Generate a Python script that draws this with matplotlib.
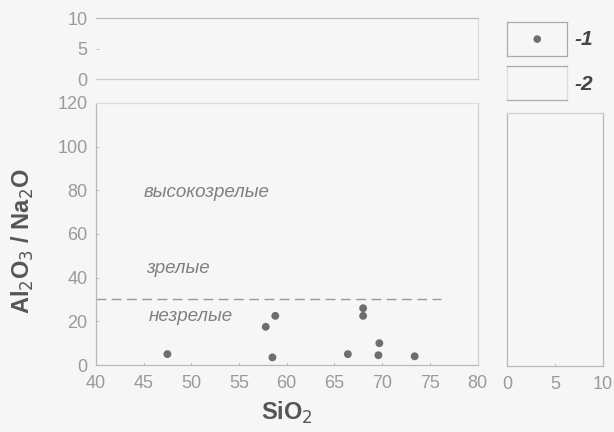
import matplotlib
matplotlib.use("Agg")
import matplotlib.pyplot as plt

plt.rcParams['font.family'] = ['Liberation Sans', 'DejaVu Sans']

sio2 = [47.5, 57.8, 58.8, 58.5, 66.4, 68.0, 68.0, 69.7, 69.6, 73.4]
ratio = [5, 17.5, 22.5, 3.5, 5, 26, 22.5, 10, 4.5, 4]
x_ticks = [40, 45, 50, 55, 60, 65, 70, 75, 80]
y_ticks = [0, 20, 40, 60, 80, 100, 120]
top_ticks = [0, 5, 10]
right_ticks = [0, 5, 10]
boundary = 30
zones = ["высокозрелые", "зрелые", "незрелые"]
zone_pos = [(51.6, 79), (48.6, 44), (49.9, 22)]

bg = '#f6f6f6'
spine_c = '#b8b8b8'
tick_c = '#9a9a9a'
pt_c = '#6e6e6e'

fig = plt.figure(figsize=(6.14, 4.32), dpi=100, facecolor=bg)

def style(ax):
    ax.set_facecolor(bg)
    for s in ax.spines.values():
        s.set_color(spine_c)
        s.set_linewidth(0.9)
    ax.tick_params(colors=spine_c, labelcolor=tick_c, labelsize=13,
                   direction='in', length=2, width=0.6)
    ax.tick_params(axis='x', pad=7)
    ax.tick_params(axis='y', pad=6)

# main axes
ax = fig.add_axes([0.156, 0.155, 0.622, 0.607])
style(ax)
ax.scatter(sio2, ratio, s=32, color=pt_c, zorder=3, edgecolors='none')
ax.plot([40, 76.2], [boundary, boundary], ls=(0, (7, 4)), color='#999999', lw=1.0)
for t, (x, y) in zip(zones, zone_pos):
    ax.text(x, y, t, style='italic', fontsize=13.5, color='#808080',
            ha='center', va='center')
ax.set_xlim(40, 80)
ax.set_ylim(0, 120)
ax.set_xticks(x_ticks)
ax.set_yticks(y_ticks)
ax.spines['top'].set_color('#dddddd')
ax.spines['right'].set_color('#d0d0d0')

fig.text(287 / 614, 1 - 413 / 432, 'SiO$_2$', fontsize=17, fontweight='bold',
         color='#555555', ha='center', va='center')
fig.text(23 / 614, 1 - 241 / 432, 'Al$_2$O$_3$ / Na$_2$O', fontsize=17, fontweight='bold',
         color='#555555', ha='center', va='center', rotation=90)

# top strip
axt = fig.add_axes([0.156, 0.817, 0.622, 0.141])
style(axt)
axt.set_xlim(40, 80)
axt.set_ylim(0, 10)
axt.set_yticks(top_ticks)
axt.set_xticks([])
axt.spines['left'].set_visible(False)
axt.spines['right'].set_color('#dddddd')
axt.spines['bottom'].set_color('#cccccc')

# right panel
axr = fig.add_axes([0.826, 0.153, 0.156, 0.585])
style(axr)
axr.set_xlim(0, 10)
axr.set_ylim(0, 120)
axr.set_xticks(right_ticks)
axr.set_yticks([])
axr.spines['top'].set_color('#d0d0d0')

# legend boxes
l1 = fig.add_axes([0.826, 0.870, 0.098, 0.079])
l2 = fig.add_axes([0.826, 0.769, 0.098, 0.079])
for lx in (l1, l2):
    lx.set_facecolor(bg)
    lx.set_xticks([]); lx.set_yticks([])
    lx.set_xlim(0, 1); lx.set_ylim(0, 1)
    for s in lx.spines.values():
        s.set_color('#aaaaaa'); s.set_linewidth(0.9)
l1.scatter([0.5], [0.5], s=30, color=pt_c, edgecolors='none')
l2.spines['left'].set_color('#dddddd')
l2.spines['right'].set_color('#dddddd')
fig.text(0.935, 0.908, '-1', fontsize=15, fontweight='bold', style='italic', color='#444444', va='center')
fig.text(0.935, 0.805, '-2', fontsize=15, fontweight='bold', style='italic', color='#444444', va='center')

fig.savefig('out.png', dpi=100, facecolor=bg)
